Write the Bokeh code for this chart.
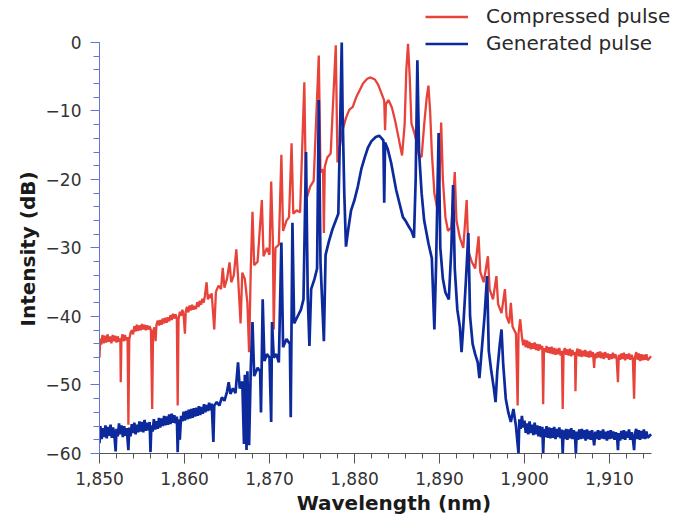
from bokeh.plotting import figure
from bokeh.models import Range1d, FixedTicker, Legend, LegendItem, Title
from bokeh.embed import file_html
from bokeh.resources import INLINE

# ---- data: (wavelength nm, intensity dB) ----
compressed_left = [
    (1850.00, -46.0), (1850.08, -43.2), (1850.20, -44.1), (1850.35, -42.7), (1850.50, -43.9),
    (1850.65, -42.8), (1850.80, -43.8), (1850.95, -42.6), (1851.10, -43.7), (1851.25, -42.9),
    (1851.40, -43.9), (1851.55, -42.7), (1851.70, -43.6), (1851.85, -42.8), (1852.00, -43.8),
    (1852.15, -42.9), (1852.30, -43.7), (1852.45, -43.2), (1852.50, -49.6), (1852.58, -43.5),
    (1852.70, -42.6), (1852.85, -43.6), (1853.00, -42.7), (1853.15, -43.5), (1853.30, -43.0),
    (1853.40, -55.8), (1853.50, -43.4), (1853.65, -42.4), (1853.80, -42.0), (1853.95, -42.6),
    (1854.10, -41.4), (1854.25, -42.2), (1854.40, -41.2), (1854.55, -42.1), (1854.70, -41.3),
    (1854.85, -42.0), (1855.00, -41.1), (1855.15, -41.9), (1855.30, -41.2), (1855.45, -42.0),
    (1855.60, -41.3), (1855.75, -41.9), (1855.90, -41.4), (1856.05, -42.0), (1856.20, -53.5),
    (1856.30, -42.2), (1856.45, -41.6), (1856.60, -43.6), (1856.70, -41.2), (1856.85, -40.6),
    (1857.00, -41.3), (1857.15, -40.5), (1857.30, -41.2), (1857.45, -40.3), (1857.60, -41.0),
    (1857.75, -40.2), (1857.90, -40.9), (1858.05, -40.1), (1858.20, -40.7), (1858.35, -39.8),
    (1858.50, -40.5), (1858.65, -39.6), (1858.80, -40.3), (1858.95, -39.7), (1859.10, -40.3),
    (1859.20, -53.0), (1859.30, -40.4), (1859.45, -39.3), (1859.60, -39.9), (1859.75, -39.0),
    (1859.90, -39.8), (1860.05, -42.5), (1860.15, -39.2), (1860.30, -38.6), (1860.45, -39.4),
    (1860.60, -38.4), (1860.75, -39.1), (1860.90, -38.3), (1861.05, -39.0), (1861.20, -38.5),
    (1861.35, -38.9), (1861.50, -37.9), (1861.65, -38.6), (1861.80, -37.7), (1861.95, -38.3),
    (1862.10, -37.4), (1862.25, -38.0), (1862.40, -37.0), (1862.60, -35.0), (1862.75, -37.5),
    (1862.90, -36.8), (1863.05, -37.3), (1863.20, -36.6),
]
compressed_center = [
    (1863.5, -41.9), (1863.7, -36.4), (1864.0, -35.5), (1864.3, -36.0), (1864.5, -32.9),
    (1864.7, -35.8), (1865.0, -34.5), (1865.3, -32.1), (1865.5, -35.0), (1865.8, -34.0),
    (1866.1, -30.2), (1866.3, -34.2), (1866.6, -41.0), (1866.8, -33.6), (1867.1, -34.5),
    (1867.4, -38.0), (1867.6, -45.2), (1867.8, -33.0), (1868.0, -24.7), (1868.2, -32.5),
    (1868.6, -32.0), (1869.1, -23.0), (1869.3, -31.2), (1869.7, -30.0), (1870.0, -31.0),
    (1870.2, -20.3), (1870.4, -29.0), (1870.5, -41.9), (1870.7, -30.0), (1871.1, -29.5),
    (1871.4, -16.4), (1871.6, -27.5), (1872.0, -26.0), (1872.3, -25.5), (1872.6, -14.7),
    (1872.8, -25.0), (1873.2, -24.5), (1873.6, -24.8), (1874.1, -5.8), (1874.3, -23.0),
    (1874.8, -21.0), (1875.2, -20.2), (1875.8, -1.9), (1876.0, -19.0), (1876.3, -18.5),
    (1876.4, -27.8), (1876.5, -18.2), (1876.8, -16.8), (1877.2, -16.2), (1877.8, -0.4),
    (1878.0, -17.5), (1878.3, -15.0), (1878.6, -12.8), (1879.0, -11.0), (1879.4, -9.8),
    (1879.8, -9.4), (1880.2, -8.0), (1880.6, -7.0), (1881.0, -6.0), (1881.5, -5.3),
    (1881.9, -5.1), (1882.4, -5.4), (1882.8, -6.2), (1883.2, -7.5), (1883.5, -8.5),
    (1883.6, -12.8), (1883.7, -9.0), (1884.0, -8.4), (1884.4, -9.5), (1884.8, -11.5),
    (1885.2, -14.0), (1885.6, -16.5), (1885.9, -12.0), (1886.1, -4.0), (1886.3, -0.2),
    (1886.5, -5.0), (1886.7, -11.8), (1887.0, -13.0), (1887.3, -14.5), (1887.6, -16.5),
    (1887.9, -16.7), (1888.2, -12.0), (1888.5, -8.0), (1888.7, -6.3), (1888.9, -10.0),
    (1889.1, -16.0), (1889.4, -22.0), (1889.7, -24.0), (1890.0, -20.0), (1890.2, -11.7),
    (1890.4, -20.0), (1890.7, -25.5), (1891.0, -27.5), (1891.4, -27.0), (1891.8, -18.9),
    (1892.0, -26.0), (1892.4, -28.5), (1892.8, -30.0), (1893.2, -23.0), (1893.4, -30.5),
    (1893.8, -32.0), (1894.2, -33.0), (1894.6, -28.3), (1894.8, -33.5), (1895.2, -35.0),
    (1895.7, -31.2), (1895.9, -36.0), (1896.3, -37.5), (1896.7, -34.1), (1896.9, -38.2),
    (1897.3, -39.5), (1897.7, -36.0), (1897.9, -40.0), (1898.2, -41.0), (1898.4, -38.0),
    (1898.6, -41.5), (1899.0, -42.5), (1899.2, -53.0), (1899.3, -42.5), (1899.5, -40.4),
]
compressed_right = [
    (1899.70, -43.0), (1899.85, -44.2), (1900.00, -43.4), (1900.15, -44.5), (1900.30, -43.5),
    (1900.45, -44.6), (1900.60, -43.7), (1900.75, -44.8), (1900.90, -43.9), (1901.05, -44.7),
    (1901.20, -43.8), (1901.35, -44.9), (1901.50, -44.0), (1901.65, -45.0), (1901.80, -44.1),
    (1901.95, -44.8), (1902.10, -44.3), (1902.20, -52.8), (1902.30, -44.6), (1902.45, -45.2),
    (1902.60, -44.3), (1902.75, -45.3), (1902.90, -44.5), (1903.05, -45.4), (1903.20, -44.4),
    (1903.35, -45.5), (1903.50, -44.6), (1903.65, -45.6), (1903.80, -44.7), (1903.95, -45.5),
    (1904.10, -44.6), (1904.25, -45.7), (1904.40, -45.0), (1904.50, -53.5), (1904.60, -45.2),
    (1904.75, -44.6), (1904.90, -45.6), (1905.05, -44.8), (1905.20, -45.7), (1905.35, -44.7),
    (1905.50, -45.8), (1905.65, -44.9), (1905.80, -45.6), (1905.95, -45.2), (1906.00, -50.9),
    (1906.10, -45.3), (1906.25, -44.7), (1906.40, -45.8), (1906.55, -44.8), (1906.70, -45.9),
    (1906.85, -45.0), (1907.00, -45.8), (1907.15, -44.9), (1907.30, -45.9), (1907.45, -45.1),
    (1907.60, -46.0), (1907.75, -45.0), (1907.90, -45.9), (1908.05, -45.2), (1908.20, -47.5),
    (1908.30, -45.4), (1908.45, -46.1), (1908.60, -45.2), (1908.75, -46.0), (1908.90, -45.1),
    (1909.05, -46.1), (1909.20, -45.3), (1909.35, -46.2), (1909.50, -45.2), (1909.65, -46.0),
    (1909.80, -45.4), (1909.95, -46.3), (1910.10, -45.5), (1910.25, -46.2), (1910.40, -45.3),
    (1910.55, -46.1), (1910.70, -45.5), (1910.85, -46.2), (1911.00, -49.6), (1911.10, -45.6),
    (1911.25, -46.3), (1911.40, -45.4), (1911.55, -46.2), (1911.70, -45.3), (1911.85, -46.4),
    (1912.00, -45.5), (1912.15, -46.2), (1912.30, -45.4), (1912.45, -46.3), (1912.60, -45.6),
    (1912.75, -46.1), (1912.90, -52.0), (1913.00, -46.0), (1913.15, -45.2), (1913.30, -46.3),
    (1913.45, -45.4), (1913.60, -46.5), (1913.75, -45.5), (1913.90, -46.4), (1914.05, -45.6),
    (1914.20, -46.3), (1914.35, -45.5), (1914.50, -46.4), (1914.90, -45.8),
]

generated_left = [
    (1850.00, -58.5), (1850.10, -56.0), (1850.25, -57.9), (1850.40, -56.3), (1850.55, -57.6),
    (1850.70, -55.9), (1850.85, -57.8), (1851.00, -56.1), (1851.15, -57.4), (1851.30, -55.8),
    (1851.45, -57.7), (1851.60, -56.2), (1851.75, -57.3), (1851.90, -59.7), (1852.00, -56.4),
    (1852.15, -57.5), (1852.30, -55.6), (1852.45, -57.2), (1852.60, -55.9), (1852.75, -57.6),
    (1852.90, -56.0), (1853.05, -57.4), (1853.20, -56.3), (1853.40, -59.5), (1853.50, -56.2),
    (1853.65, -57.5), (1853.80, -55.7), (1853.95, -57.0), (1854.10, -55.5), (1854.25, -57.2),
    (1854.40, -55.8), (1854.55, -56.9), (1854.70, -55.3), (1854.85, -56.8), (1855.00, -55.4),
    (1855.15, -56.9), (1855.30, -55.1), (1855.45, -56.7), (1855.60, -55.5), (1855.75, -56.6),
    (1855.90, -55.4), (1856.00, -59.8), (1856.10, -55.9), (1856.25, -56.8), (1856.40, -55.0),
    (1856.55, -56.5), (1856.70, -55.3), (1856.85, -56.4), (1857.00, -54.8), (1857.15, -56.2),
    (1857.30, -54.9), (1857.45, -56.0), (1857.60, -54.5), (1857.75, -55.9), (1857.90, -54.6),
    (1858.05, -55.8), (1858.20, -54.3), (1858.35, -55.7), (1858.50, -54.2), (1858.65, -55.5),
    (1858.80, -54.4), (1858.95, -55.6), (1859.10, -54.6), (1859.20, -59.8), (1859.30, -55.0),
    (1859.45, -58.0), (1859.60, -54.5), (1859.75, -55.3), (1859.90, -53.9), (1860.05, -55.2),
    (1860.20, -53.8), (1860.35, -55.0), (1860.50, -53.6), (1860.65, -54.9), (1860.80, -53.5),
    (1860.95, -54.8), (1861.10, -53.4), (1861.25, -54.6), (1861.40, -53.3), (1861.55, -54.5),
    (1861.70, -53.1), (1861.85, -54.4), (1862.00, -53.2), (1862.15, -54.2), (1862.30, -52.8),
    (1862.45, -54.0), (1862.60, -52.9), (1862.75, -53.8), (1862.90, -52.6), (1863.05, -53.7),
    (1863.20, -52.7), (1863.40, -58.3),
]
generated_center = [
    (1863.5, -53.0), (1863.8, -52.5), (1864.1, -53.0), (1864.4, -51.8), (1864.7, -52.3),
    (1865.0, -51.0), (1865.2, -49.6), (1865.4, -51.3), (1865.7, -50.5), (1866.0, -51.2),
    (1866.3, -46.7), (1866.5, -50.5), (1866.8, -49.5), (1867.0, -58.6), (1867.1, -48.5),
    (1867.3, -59.5), (1867.4, -48.0), (1867.6, -58.8), (1867.8, -47.5), (1868.0, -40.8),
    (1868.2, -48.7), (1868.6, -47.5), (1868.9, -48.0), (1869.0, -54.0), (1869.2, -37.5),
    (1869.4, -46.5), (1869.7, -45.5), (1870.0, -46.0), (1870.2, -55.4), (1870.3, -40.8),
    (1870.5, -46.0), (1870.8, -45.5), (1871.1, -46.7), (1871.4, -29.2), (1871.6, -44.5),
    (1872.0, -43.3), (1872.4, -44.0), (1872.5, -54.7), (1872.7, -26.3), (1872.9, -41.0),
    (1873.3, -40.0), (1873.7, -39.0), (1874.0, -37.5), (1874.3, -16.0), (1874.5, -37.0),
    (1874.7, -44.3), (1874.9, -36.0), (1875.3, -34.5), (1875.6, -33.0), (1875.8, -8.4),
    (1876.0, -32.1), (1876.4, -43.6), (1876.6, -31.0), (1877.0, -29.0), (1877.4, -27.3),
    (1877.8, -26.0), (1878.1, -25.0), (1878.4, -6.5), (1878.5, 0.0), (1878.6, -10.0),
    (1878.8, -22.0), (1879.0, -29.8), (1879.3, -27.0), (1879.6, -24.5), (1880.0, -23.0),
    (1880.4, -21.0), (1880.8, -18.5), (1881.2, -16.8), (1881.6, -15.3), (1882.0, -14.4),
    (1882.5, -13.8), (1882.9, -13.6), (1883.2, -14.0), (1883.4, -14.3), (1883.5, -23.4),
    (1883.6, -14.6), (1883.9, -15.5), (1884.3, -17.5), (1884.6, -19.5), (1884.9, -21.5),
    (1885.3, -23.5), (1885.7, -25.5), (1886.0, -26.0), (1886.4, -26.9), (1886.7, -27.5),
    (1887.0, -28.5), (1887.2, -20.0), (1887.4, -2.6), (1887.6, -16.0), (1887.9, -22.0),
    (1888.2, -26.0), (1888.7, -29.3), (1889.1, -31.5), (1889.4, -41.9), (1889.6, -32.5),
    (1889.9, -13.2), (1890.1, -30.0), (1890.4, -34.5), (1890.7, -36.5), (1891.1, -37.5),
    (1891.4, -30.0), (1891.6, -20.8), (1891.8, -33.0), (1892.1, -39.0), (1892.4, -41.5),
    (1892.6, -45.2), (1892.8, -41.5), (1893.1, -35.0), (1893.4, -27.8), (1893.6, -40.0),
    (1893.9, -44.0), (1894.2, -45.5), (1894.5, -46.7), (1894.7, -49.0), (1894.9, -46.0),
    (1895.3, -40.0), (1895.6, -34.1), (1895.8, -45.0), (1896.1, -48.0), (1896.4, -50.5),
    (1896.6, -52.5), (1896.8, -48.0), (1897.1, -44.0), (1897.3, -41.9), (1897.5, -47.0),
    (1897.8, -52.0), (1898.1, -54.0), (1898.4, -55.4), (1898.7, -53.5), (1899.0, -56.0),
    (1899.3, -60.0),
]
generated_right = [
    (1899.40, -55.0), (1899.55, -56.4), (1899.70, -54.5), (1899.85, -56.2), (1900.00, -55.2),
    (1900.15, -57.0), (1900.30, -55.6), (1900.45, -57.2), (1900.60, -55.3), (1900.75, -57.0),
    (1900.90, -55.8), (1901.05, -57.3), (1901.20, -55.5), (1901.35, -57.2), (1901.50, -55.9),
    (1901.65, -57.5), (1901.80, -56.0), (1901.95, -57.6), (1902.10, -56.1), (1902.20, -60.0),
    (1902.30, -56.4), (1902.45, -57.6), (1902.60, -56.0), (1902.75, -57.7), (1902.90, -56.2),
    (1903.05, -57.8), (1903.20, -56.3), (1903.35, -57.7), (1903.50, -56.1), (1903.65, -57.9),
    (1903.80, -56.4), (1903.95, -57.6), (1904.10, -56.2), (1904.25, -57.8), (1904.40, -56.5),
    (1904.50, -60.0), (1904.60, -56.6), (1904.75, -57.9), (1904.90, -56.4), (1905.05, -58.0),
    (1905.20, -56.5), (1905.35, -57.8), (1905.50, -56.3), (1905.65, -57.9), (1905.80, -56.6),
    (1905.95, -57.5), (1906.05, -60.0), (1906.15, -56.8), (1906.30, -58.0), (1906.45, -56.5),
    (1906.60, -57.9), (1906.75, -56.4), (1906.90, -57.8), (1907.05, -56.6), (1907.20, -58.1),
    (1907.35, -56.5), (1907.50, -57.9), (1907.65, -56.7), (1907.80, -58.0), (1907.95, -56.6),
    (1908.10, -57.8), (1908.20, -58.8), (1908.35, -56.8), (1908.50, -57.9), (1908.65, -56.6),
    (1908.80, -58.0), (1908.95, -56.7), (1909.10, -57.8), (1909.25, -56.5), (1909.40, -57.9),
    (1909.55, -56.8), (1909.70, -58.1), (1909.85, -56.7), (1910.00, -57.9), (1910.15, -56.6),
    (1910.30, -57.8), (1910.45, -56.8), (1910.60, -58.0), (1910.75, -56.9), (1910.90, -57.6),
    (1911.00, -59.5), (1911.10, -57.0), (1911.25, -58.1), (1911.40, -56.7), (1911.55, -57.9),
    (1911.70, -56.6), (1911.85, -58.0), (1912.00, -56.8), (1912.15, -57.7), (1912.30, -56.5),
    (1912.45, -58.0), (1912.60, -56.9), (1912.75, -57.8), (1912.90, -59.5), (1913.00, -57.1),
    (1913.15, -56.4), (1913.30, -57.9), (1913.45, -56.6), (1913.60, -58.0), (1913.75, -56.7),
    (1913.90, -57.8), (1914.05, -56.5), (1914.20, -57.9), (1914.35, -56.8), (1914.50, -57.7),
    (1914.90, -57.2),
]

series_names = ["Compressed pulse", "Generated pulse"]
x_ticks = [1850, 1860, 1870, 1880, 1890, 1900, 1910]
x_tick_labels = ["1,850", "1,860", "1,870", "1,880", "1,890", "1,900", "1,910"]
y_ticks = [0, -10, -20, -30, -40, -50, -60]
y_tick_labels = ["0", "\u221210", "\u221220", "\u221230", "\u221240", "\u221250", "\u221260"]

compressed = compressed_left + compressed_center + compressed_right
generated = generated_left + generated_center + generated_right
compressed_wl = [w for w, _ in compressed]
compressed_db = [d for _, d in compressed]
generated_wl = [w for w, _ in generated]
generated_db = [d for _, d in generated]

RED = "#e8433a"
BLUE = "#0c2a9c"
AXIS_BLUE = "#6474d4"
FONT = "DejaVu Sans"

# frame spans the whole right/top part of the canvas so that the legend is not
# clipped; the axes themselves are limited with bounds to the data span
p = figure(width=688, height=524, output_backend="svg", toolbar_location=None,
           x_range=Range1d(1850, 1919.3), y_range=Range1d(-60, 6.13),
           min_border_left=99, min_border_right=0, min_border_top=0,
           min_border_bottom=71)
p.outline_line_color = None
p.xgrid.visible = False
p.ygrid.visible = False
p.background_fill_color = "white"

r1 = p.line(compressed_wl, compressed_db, line_color=RED, line_width=2.3)
r2 = p.line(generated_wl, generated_db, line_color=BLUE, line_width=2.7)

# x axis
xa = p.xaxis[0]
xa.bounds = (1850, 1915)
xa.ticker = FixedTicker(ticks=x_ticks, minor_ticks=list(range(1850, 1915, 2)))
xa.major_label_overrides = {t: l for t, l in zip(x_ticks, x_tick_labels)}
xa.axis_line_color = "#555555"
xa.major_tick_line_color = "#555555"
xa.minor_tick_line_color = "#555555"
xa.major_tick_out = 10
xa.major_tick_in = 0
xa.minor_tick_out = 5
xa.minor_tick_in = 0
xa.major_label_text_font = FONT
xa.major_label_text_font_size = "17px"
xa.major_label_text_color = "#333333"
xa.major_label_standoff = 8
xa.axis_label = "Wavelength (nm)"
xa.axis_label_text_font = FONT
xa.axis_label_text_font_style = "bold"
xa.axis_label_text_font_size = "20px"
xa.axis_label_text_color = "#1a1a1a"
xa.axis_label_standoff = 3

# y axis (line only spans 0 .. -60)
ya = p.yaxis[0]
ya.ticker = FixedTicker(ticks=y_ticks, minor_ticks=list(range(-60, 1, 2)))
ya.major_label_overrides = {t: l for t, l in zip(y_ticks, y_tick_labels)}
ya.bounds = (-60, 0)
ya.axis_line_color = AXIS_BLUE
ya.major_tick_line_color = AXIS_BLUE
ya.minor_tick_line_color = AXIS_BLUE
ya.major_tick_out = 9
ya.major_tick_in = 0
ya.minor_tick_out = 6
ya.minor_tick_in = 0
ya.major_label_text_font = FONT
ya.major_label_text_font_size = "17px"
ya.major_label_text_color = "#333333"
ya.major_label_standoff = 9

# y title placed along the 0 .. -60 span of the axis
ytitle = Title(text="Intensity (dB)", align="left", offset=127,
               text_font=FONT, text_font_style="bold", text_font_size="20px",
               text_color="#1a1a1a", standoff=6)
p.add_layout(ytitle, "left")

legend = Legend(items=[LegendItem(label=series_names[0], renderers=[r1]),
                       LegendItem(label=series_names[1], renderers=[r2])],
                location=(326, 398))
legend.border_line_color = None
legend.background_fill_alpha = 0
legend.padding = 0
legend.margin = 0
legend.spacing = 3
legend.glyph_width = 43
legend.glyph_height = 23
legend.label_height = 23
legend.label_standoff = 18
legend.label_text_font = FONT
legend.label_text_font_size = "20px"
legend.label_text_color = "#2a2a2a"
p.add_layout(legend)

open("out.html", "w").write(file_html(p, INLINE))
